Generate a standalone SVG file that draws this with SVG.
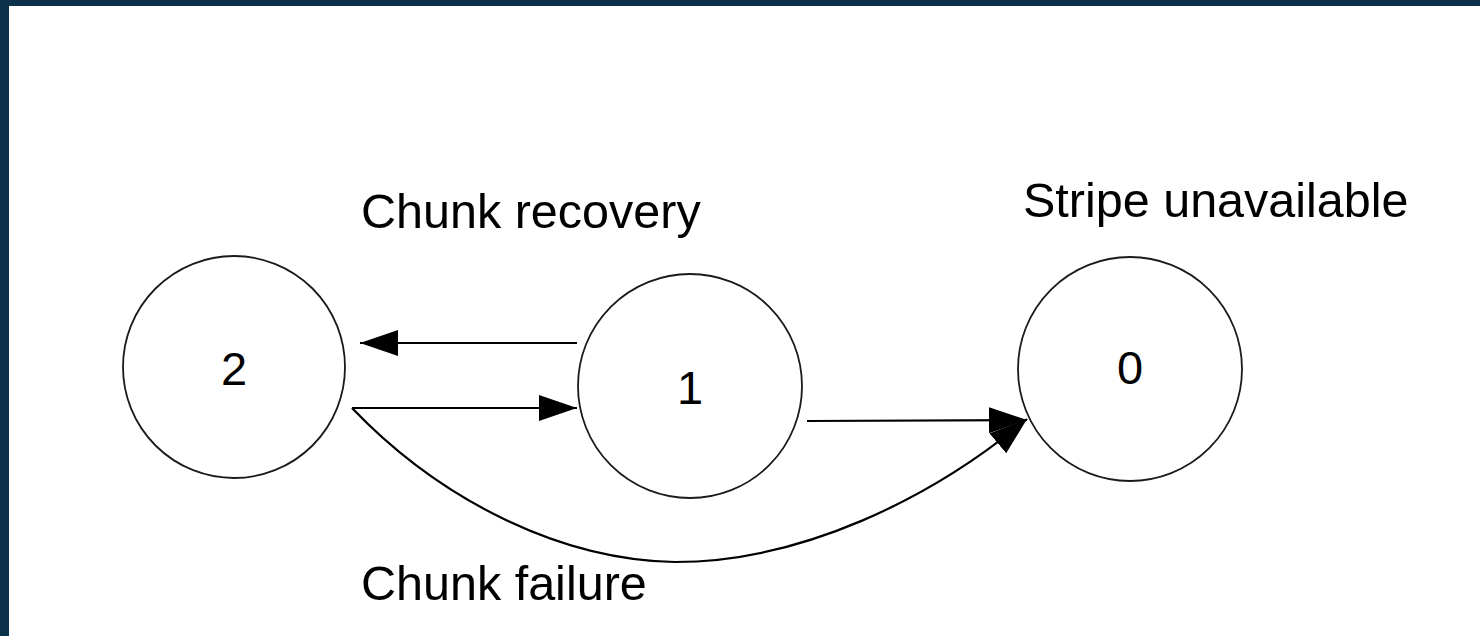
<svg xmlns="http://www.w3.org/2000/svg" width="1480" height="636" viewBox="0 0 1480 636">
  <style>
    .node circle { fill: #ffffff; stroke: #1a1a1a; stroke-width: 1.8; }
    .lbl { font-family: "Liberation Sans", Arial, sans-serif; font-size: 48.5px; fill: #000000; }
    .num { font-family: "Liberation Sans", Arial, sans-serif; font-size: 47px; fill: #000000; text-anchor: middle; }
    .edge { fill: none; stroke: #000000; stroke-width: 2.2; marker-end: url(#arrow); }
  </style>
  <defs>
    <marker id="arrow" markerUnits="userSpaceOnUse" markerWidth="40" markerHeight="28" refX="38" refY="13" orient="auto">
      <path d="M0,0 L38,13 L0,26 z" fill="#000000"/>
    </marker>
  </defs>
  <rect x="0" y="0" width="1480" height="636" fill="#0b3049"/>
  <rect x="9" y="6" width="1471" height="630" fill="#ffffff"/>

  <g id="node-2" class="node">
    <circle cx="234" cy="367" r="111"/>
    <text class="num" x="234" y="385">2</text>
  </g>
  <g id="node-1" class="node">
    <circle cx="690" cy="386" r="112"/>
    <text class="num" x="690" y="404">1</text>
  </g>
  <g id="node-0" class="node">
    <circle cx="1130" cy="369" r="112"/>
    <text class="num" x="1130" y="384">0</text>
  </g>

  <g id="connectors">
    <path class="edge" d="M577,343 L360,343"/>
    <path class="edge" d="M352,408 L577,408"/>
    <path class="edge" d="M807,421 L1027,420"/>
    <path class="edge" d="M352,408 C440,500 560,560 675,562 C800,562 930,500 1027,419"/>
  </g>

  <g id="labels">
    <text class="lbl" x="361" y="228">Chunk recovery</text>
    <text class="lbl" x="1023" y="217">Stripe unavailable</text>
    <text class="lbl" x="361" y="600">Chunk failure</text>
  </g>
</svg>
